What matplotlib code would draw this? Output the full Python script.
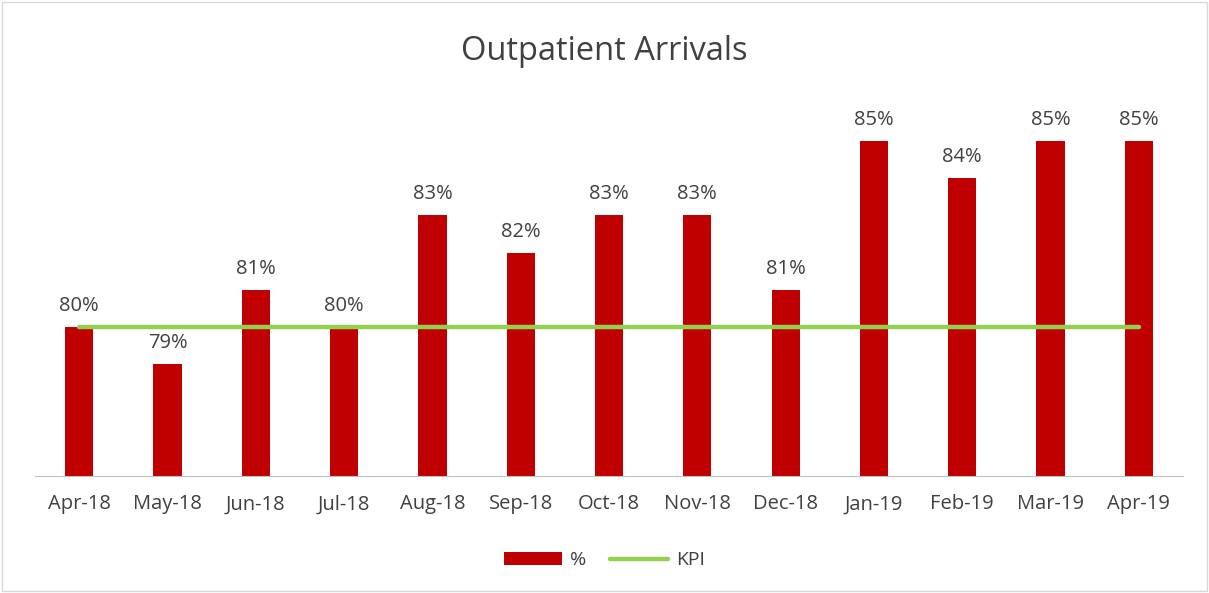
import matplotlib
matplotlib.use("Agg")
import matplotlib.pyplot as plt
from matplotlib.patches import Rectangle

months = ["Apr-18", "May-18", "Jun-18", "Jul-18", "Aug-18", "Sep-18", "Oct-18",
          "Nov-18", "Dec-18", "Jan-19", "Feb-19", "Mar-19", "Apr-19"]
pct = [80, 79, 81, 80, 83, 82, 83, 83, 81, 85, 84, 85, 85]
kpi = [80] * len(months)

plt.rcParams['font.family'] = ['Open Sans', 'DejaVu Sans']
txt = '#404040'

fig = plt.figure(figsize=(12.09, 5.93), dpi=100)
fig.patches.append(Rectangle((0.002, 0.003), 0.996, 0.994, transform=fig.transFigure,
                             fill=False, edgecolor='#d9d9d9', linewidth=1))
ax = fig.add_axes([0.029, 0.197, 0.9495, 0.628])
x = list(range(len(months)))
bars = ax.bar(x, pct, width=0.32, color='#C00000', label='%', zorder=2)
line, = ax.plot(x, kpi, color='#92D050', linewidth=3.2, label='KPI', zorder=3, solid_capstyle='round')
for xi, v in zip(x, pct):
    ax.text(xi, v + 0.3, f"{v}%", ha='center', va='bottom', fontsize=14.5, color=txt)

ax.set_ylim(76, 86)
ax.set_xlim(-0.5, len(months) - 0.5)
ax.set_xticks(x)
ax.set_xticklabels(months, fontsize=14.5, color=txt)
ax.tick_params(axis='x', length=0, pad=13)
ax.set_yticks([])
for s in ['top', 'right', 'left']:
    ax.spines[s].set_visible(False)
ax.spines['bottom'].set_color('#bfbfbf')

fig.text(0.5, 0.913, "Outpatient Arrivals", ha='center', va='center', fontsize=23.5, color=txt)
fig.legend(handles=[bars, line], labels=['%', 'KPI'], loc='center', bbox_to_anchor=(0.5, 0.055),
           ncol=2, frameon=False, fontsize=14, labelcolor=txt, handlelength=3,
           columnspacing=1.2, handletextpad=0.4)

fig.savefig("out.png", dpi=100)
